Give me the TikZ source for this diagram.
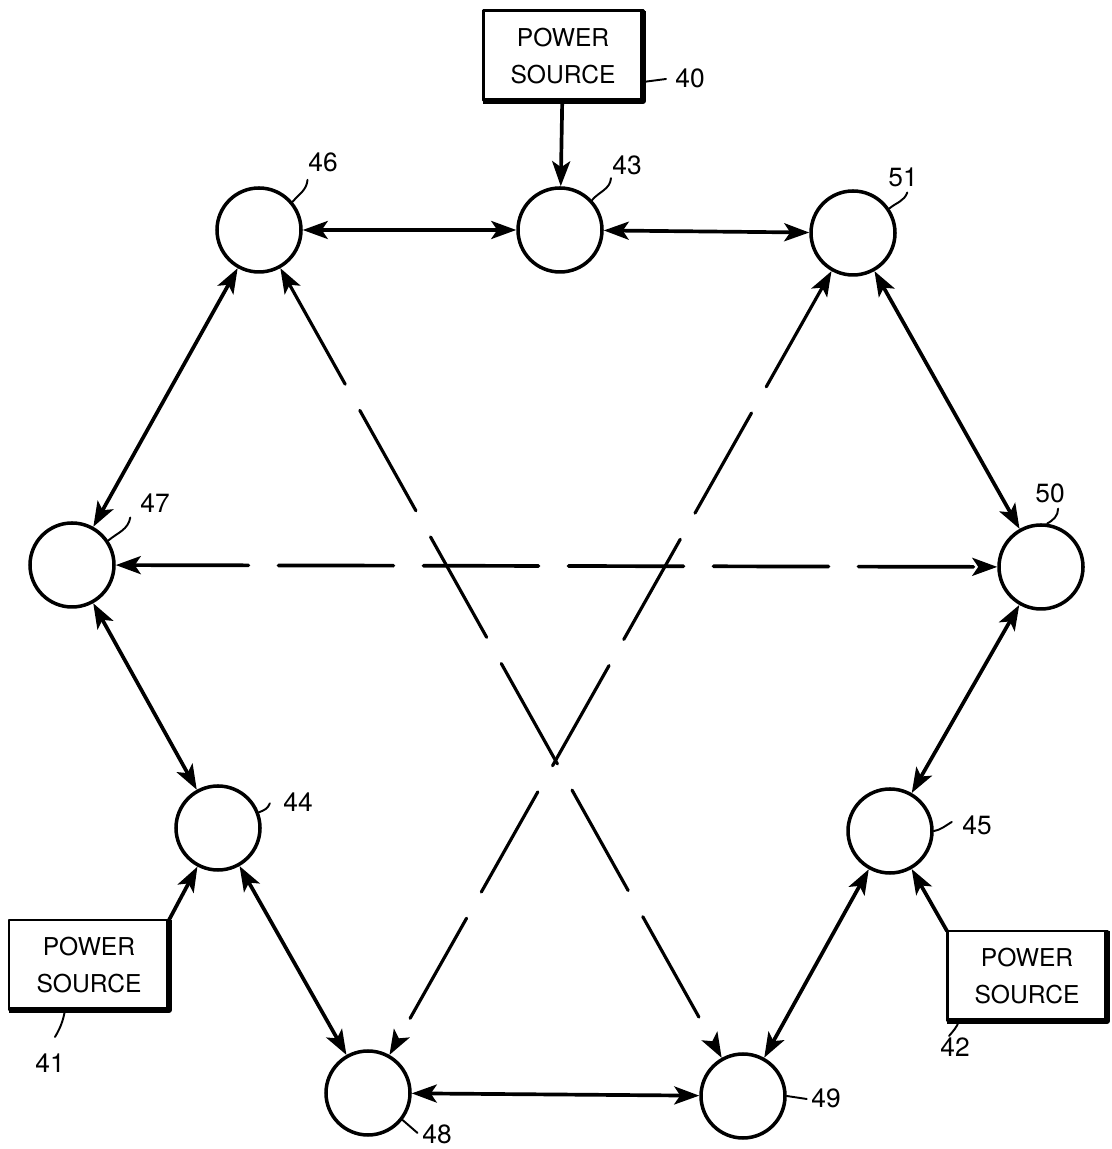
\documentclass[tikz,border=0pt]{standalone}
\usepackage{fontspec}
\setsansfont{TeX Gyre Heros}
\usetikzlibrary{arrows.meta}
\tikzset{
	station/.style={circle, draw, line width=2pt, minimum size=1.68cm, inner sep=0pt},
	psource/.style={draw, line width=1.7pt, outer sep=0pt, minimum width=3.2cm, minimum height=1.8cm, align=center, font=\sffamily\fontsize{14}{21}\selectfont},
	link/.style={line width=2.1pt, {Stealth[length=5mm,width=3.6mm,inset=1.2mm]}-{Stealth[length=5mm,width=3.6mm,inset=1.2mm]}},
	feed/.style={line width=2.1pt, -{Stealth[length=5mm,width=3.6mm,inset=1.2mm]}},
	alt/.style={link, line width=1.8pt, dash pattern=on 2.3cm off 0.6cm},
	leader/.style={line width=1.1pt},
	num/.style={font=\sffamily\fontsize{15}{18}\selectfont, inner sep=0pt}
}
\begin{document}
\begin{tikzpicture}[line join=round, line cap=round]
	\useasboundingbox (0,0) rectangle (22.22,22.98);
	% stations
	\node[station] (n46) at (5.18,18.38) {};
	\node[station] (n43) at (11.20,18.38) {};
	\node[station] (n51) at (17.06,18.32) {};
	\node[station] (n47) at (1.44,11.68) {};
	\node[station] (n50) at (20.82,11.64) {};
	\node[station] (n44) at (4.36,6.42) {};
	\node[station] (n45) at (17.80,6.36) {};
	\node[station] (n48) at (7.36,1.12) {};
	\node[station] (n49) at (14.86,1.06) {};
	% power sources
	\node[psource] (box40) at (11.26,21.86) {POWER\\SOURCE};
	\node[psource] (box41) at (1.78,3.68) {POWER\\SOURCE};
	\node[psource] (box42) at (20.54,3.46) {POWER\\SOURCE};
	\foreach \b in {box40,box41,box42}
		\draw[line width=3.4pt, line cap=butt] (\b.north east) -- (\b.south east) -- (\b.south west);
	% ring
	\draw[link] (n46) -- (n43);
	\draw[link] (n43) -- (n51);
	\draw[link] (n46) -- (n47);
	\draw[link] (n51) -- (n50);
	\draw[link] (n47) -- (n44);
	\draw[link] (n50) -- (n45);
	\draw[link] (n44) -- (n48);
	\draw[link] (n45) -- (n49);
	\draw[link] (n48) -- (n49);
	% cross links
	\draw[alt, line width=2.1pt] (n47) -- (n50);
	\draw[alt] (n46) -- (n49);
	\draw[alt] (n51) -- (n48);
	% feeds
	\draw[feed] (box40) -- (n43);
	\draw[feed] (box41.north east) -- (n44);
	\draw[feed] (box42.north west) -- (n45);
	% reference numerals
	\node[num] (l40) at (13.80,21.42) {40};
	\node[num] (l41) at (1.00,1.72) {41};
	\node[num] (l42) at (19.10,2.04) {42};
	\node[num] (l43) at (12.54,19.68) {43};
	\node[num] (l44) at (5.96,6.94) {44};
	\node[num] (l45) at (19.54,6.48) {45};
	\node[num] (l46) at (6.46,19.74) {46};
	\node[num] (l47) at (3.10,12.92) {47};
	\node[num] (l48) at (8.74,0.30) {48};
	\node[num] (l49) at (16.52,1.02) {49};
	\node[num] (l50) at (21.00,13.12) {50};
	\node[num] (l51) at (18.06,19.44) {51};
	\draw[leader] ([yshift=-0.52cm]box40.east) -- ++(0.46,0.06);
	\draw[leader] ([xshift=-0.48cm]box41.south) to[out=-100,in=60] ++(-0.2,-0.54);
	\draw[leader] ([xshift=-1.36cm]box42.south) to[out=-110,in=50] ++(-0.2,-0.3);
	\draw[leader] (n43.43) to[out=50,in=-95] ++(0.38,0.44);
	\draw[leader] (n46.40) to[out=50,in=-95] ++(0.3,0.44);
	\draw[leader] (n51.34) to[out=40,in=-110] ++(0.36,0.32);
	\draw[leader] (n47.34) to[out=40,in=-100] ++(0.44,0.46);
	\draw[leader] (n50.82) to[out=30,in=-90] ++(0.22,0.3);
	\draw[leader] (n44.21) to[out=20,in=-110] ++(0.22,0.18);
	\draw[leader] (n45.0) to[out=10,in=-150] ++(0.36,0.18);
	\draw[leader] (n48.-38) -- ++(0.3,-0.26);
	\draw[leader] (n49.0) -- ++(0.4,-0.06);
\end{tikzpicture}
\end{document}
